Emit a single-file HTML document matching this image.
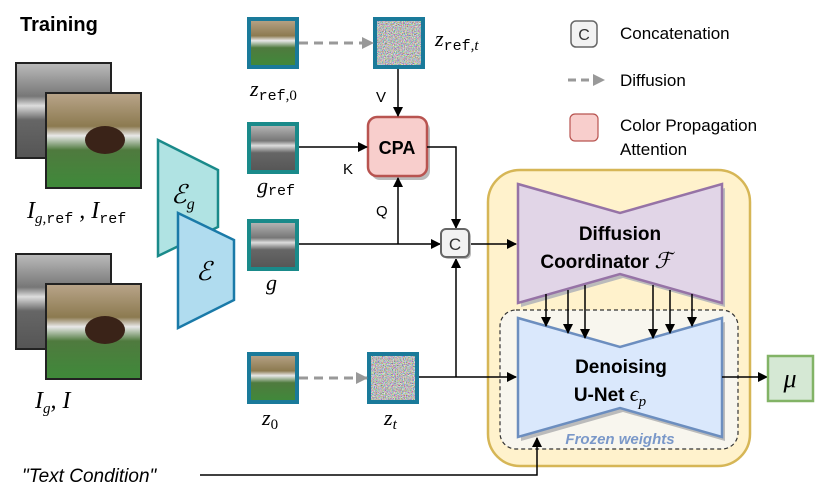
<!DOCTYPE html>
<html><head><meta charset="utf-8"><style>
body{margin:0;background:#fff}
svg text{font-family:"Liberation Sans",sans-serif}
.m{font-family:"Liberation Serif",serif;font-style:italic}
.tt{font-family:"Liberation Mono",monospace;font-style:normal}
</style></head><body>
<svg width="830" height="499" viewBox="0 0 830 499" xmlns="http://www.w3.org/2000/svg">
<defs>
<marker id="a" markerWidth="10" markerHeight="10" refX="9" refY="5" orient="auto" markerUnits="userSpaceOnUse"><path d="M0,0 L10,5 L0,10z" fill="#000"/></marker>
<marker id="ag" markerWidth="12" markerHeight="12" refX="11" refY="6" orient="auto" markerUnits="userSpaceOnUse"><path d="M0,0 L12,6 L0,12z" fill="#999"/></marker>
<linearGradient id="col" x1="0" y1="0" x2="0" y2="1"><stop offset="0" stop-color="#b9a58a"/><stop offset="0.35" stop-color="#8c7a50"/><stop offset="0.45" stop-color="#e8e8e8"/><stop offset="0.6" stop-color="#4f7a3e"/><stop offset="1" stop-color="#3f8a3a"/></linearGradient>
<linearGradient id="gr" x1="0" y1="0" x2="0" y2="1"><stop offset="0" stop-color="#bbb"/><stop offset="0.35" stop-color="#777"/><stop offset="0.45" stop-color="#ddd"/><stop offset="0.6" stop-color="#666"/><stop offset="1" stop-color="#555"/></linearGradient>
<filter id="n" x="0" y="0" width="1" height="1" filterUnits="objectBoundingBox"><feTurbulence type="fractalNoise" baseFrequency="0.9" numOctaves="2" seed="3"/><feColorMatrix type="matrix" values="1.6 0 0 0 -0.3  0 1.6 0 0 -0.3  0 0 1.6 0 -0.3  0 0 0 0 1"/></filter>
</defs>
<text x="20" y="31" font-size="20" font-weight="bold">Training</text>
<rect x="16" y="63" width="95" height="95" fill="url(#gr)" stroke="#222" stroke-width="2"/>
<rect x="46" y="93" width="95" height="95" fill="url(#col)" stroke="#222" stroke-width="2"/>
<ellipse cx="105" cy="140" rx="20" ry="14" fill="#3a2318"/>
<text x="27" y="218" font-size="24" class="m">I<tspan font-size="15" dy="5">g,</tspan><tspan class="tt" font-size="15">ref</tspan><tspan dy="-5"> , I</tspan><tspan class="tt" font-size="15" dy="5">ref</tspan></text>
<rect x="16" y="254" width="95" height="95" fill="url(#gr)" stroke="#222" stroke-width="2"/>
<rect x="46" y="284" width="95" height="95" fill="url(#col)" stroke="#222" stroke-width="2"/>
<ellipse cx="105" cy="330" rx="20" ry="14" fill="#3a2318"/>
<text x="35" y="408" font-size="24" class="m">I<tspan font-size="15" dy="5">g</tspan><tspan dy="-5">, I</tspan></text>
<polygon points="158,140 218,170 218,227 158,256" fill="#b0e3e3" stroke="#1a8a8a" stroke-width="2.5"/>
<text x="171" y="203" font-size="26" class="m">ℰ<tspan font-size="16" dy="6">g</tspan></text>
<polygon points="178,213 234,240 234,300 178,328" fill="#b0dcef" stroke="#1a7aa8" stroke-width="2.5"/>
<text x="196" y="280" font-size="26" class="m">ℰ</text>
<rect x="375" y="19" width="48" height="48" fill="#888" filter="url(#n)"/>
<rect x="369" y="354" width="48" height="48" fill="#888" filter="url(#n)"/>
<g stroke="#1a7a9a" stroke-width="4">
<rect x="249" y="19" width="48" height="48" fill="url(#col)"/>
<rect x="249" y="124" width="48" height="48" fill="url(#gr)" stroke="#1a8a8a"/>
<rect x="249" y="221" width="48" height="48" fill="url(#gr)" stroke="#1a8a8a"/>
<rect x="249" y="354" width="48" height="48" fill="url(#col)"/>
<rect x="375" y="19" width="48" height="48" fill="none"/>
<rect x="369" y="354" width="48" height="48" fill="none"/>
</g>
<text x="250" y="96" font-size="22" class="m">z<tspan class="tt" font-size="15" dy="4">ref</tspan><tspan font-size="15" style="font-style:normal">,0</tspan></text>
<text x="435" y="46" font-size="22" class="m">z<tspan class="tt" font-size="15" dy="4">ref</tspan><tspan font-size="15">,t</tspan></text>
<text x="257" y="193" font-size="22" class="m">g<tspan class="tt" font-size="15" dy="2">ref</tspan></text>
<text x="266" y="290" font-size="22" class="m">g</text>
<text x="262" y="425" font-size="22" class="m">z<tspan font-size="15" dy="4" style="font-style:normal">0</tspan></text>
<text x="384" y="425" font-size="22" class="m">z<tspan font-size="15" dy="4">t</tspan></text>
<line x1="299" y1="43" x2="373" y2="43" stroke="#999" stroke-width="3" stroke-dasharray="9,6" marker-end="url(#ag)"/>
<line x1="299" y1="378" x2="367" y2="378" stroke="#999" stroke-width="3" stroke-dasharray="9,6" marker-end="url(#ag)"/>
<!-- yellow box -->
<rect x="488" y="170" width="262" height="296" rx="32" fill="#fff2cc" stroke="#d6b656" stroke-width="2.5"/>
<polygon points="521,188 623,217 725,188 725,307 623,278 521,307" fill="#bbb"/>
<polygon points="518,184 620,213 722,184 722,303 620,274 518,303" fill="#e1d5e7" stroke="#9673a6" stroke-width="2.5"/>
<text x="620" y="240" font-size="19" font-weight="bold" text-anchor="middle">Diffusion</text>
<text x="606" y="268" font-size="19" font-weight="bold" text-anchor="middle">Coordinator <tspan class="m" font-weight="normal" font-size="22">ℱ</tspan></text>
<rect x="500" y="310" width="238" height="139" rx="16" fill="#f8f6ee" stroke="#333" stroke-width="1.2" stroke-dasharray="4,3"/>
<polygon points="521,322 623,351 725,322 725,441 623,412 521,441" fill="#bbb"/>
<polygon points="518,318 620,347 722,318 722,437 620,408 518,437" fill="#dae8fc" stroke="#6c8ebf" stroke-width="2.5"/>
<text x="621" y="373" font-size="19" font-weight="bold" text-anchor="middle">Denoising</text>
<text x="610" y="401" font-size="19" font-weight="bold" text-anchor="middle">U-Net <tspan class="m" font-weight="normal" font-size="22">ϵ</tspan><tspan class="m" font-weight="normal" font-size="15" dy="5">p</tspan></text>
<text x="620" y="444" font-size="15" font-weight="bold" font-style="italic" fill="#7a98c9" text-anchor="middle">Frozen weights</text>
<!-- CPA -->
<rect x="371" y="121" width="59" height="59" rx="9" fill="#bbb"/>
<rect x="368" y="117" width="59" height="59" rx="9" fill="#f8cecc" stroke="#b85450" stroke-width="2.5"/>
<text x="397" y="154" font-size="18" font-weight="bold" text-anchor="middle">CPA</text>
<g stroke="#000" stroke-width="1.5" fill="none">
<line x1="398" y1="69" x2="398" y2="116" marker-end="url(#a)"/>
<line x1="299" y1="147" x2="367" y2="147" marker-end="url(#a)"/>
<line x1="299" y1="244" x2="440" y2="244" marker-end="url(#a)"/>
<line x1="398" y1="244" x2="398" y2="178" marker-end="url(#a)"/>
<polyline points="427,147 456,147 456,228" marker-end="url(#a)"/>
<polyline points="419,377 516,377" marker-end="url(#a)"/>
<line x1="456" y1="377" x2="456" y2="259" marker-end="url(#a)"/>
<line x1="471" y1="244" x2="516" y2="244" marker-end="url(#a)"/>
<polyline points="200,475 537,475 537,438" marker-end="url(#a)"/>
<line x1="546" y1="294" x2="546" y2="326" marker-end="url(#a)"/>
<line x1="568" y1="290" x2="568" y2="333" marker-end="url(#a)"/>
<line x1="585" y1="285" x2="585" y2="338" marker-end="url(#a)"/>
<line x1="653" y1="285" x2="653" y2="338" marker-end="url(#a)"/>
<line x1="670" y1="290" x2="670" y2="333" marker-end="url(#a)"/>
<line x1="692" y1="294" x2="692" y2="326" marker-end="url(#a)"/>
<line x1="722" y1="377" x2="767" y2="377" marker-end="url(#a)"/>
</g>
<text x="376" y="102" font-size="15">V</text>
<text x="343" y="174" font-size="15">K</text>
<text x="376" y="216" font-size="15">Q</text>
<rect x="443" y="231" width="28" height="28" rx="5" fill="#bbb"/>
<rect x="441" y="229" width="28" height="28" rx="5" fill="#f2f2f2" stroke="#666" stroke-width="2"/>
<text x="455" y="250" font-size="17" text-anchor="middle" fill="#333">C</text>
<rect x="768" y="356" width="45" height="45" fill="#d5e8d4" stroke="#82b366" stroke-width="2.5"/>
<text x="790" y="387" font-size="26" class="m" text-anchor="middle">μ</text>
<text x="22" y="482" font-size="19" font-style="italic">"Text Condition"</text>
<rect x="571" y="21" width="26" height="26" rx="5" fill="#f2f2f2" stroke="#666" stroke-width="1.5"/>
<text x="584" y="40" font-size="16" text-anchor="middle" fill="#333">C</text>
<text x="620" y="39" font-size="17">Concatenation</text>
<line x1="568" y1="80" x2="604" y2="80" stroke="#999" stroke-width="3" stroke-dasharray="8,5" marker-end="url(#ag)"/>
<text x="620" y="86" font-size="17">Diffusion</text>
<rect x="570" y="114" width="28" height="27" rx="5" fill="#f8cecc" stroke="#b85450" stroke-width="1.2"/>
<text x="620" y="131" font-size="17">Color Propagation</text>
<text x="620" y="155" font-size="17">Attention</text>
</svg>
</body></html>
